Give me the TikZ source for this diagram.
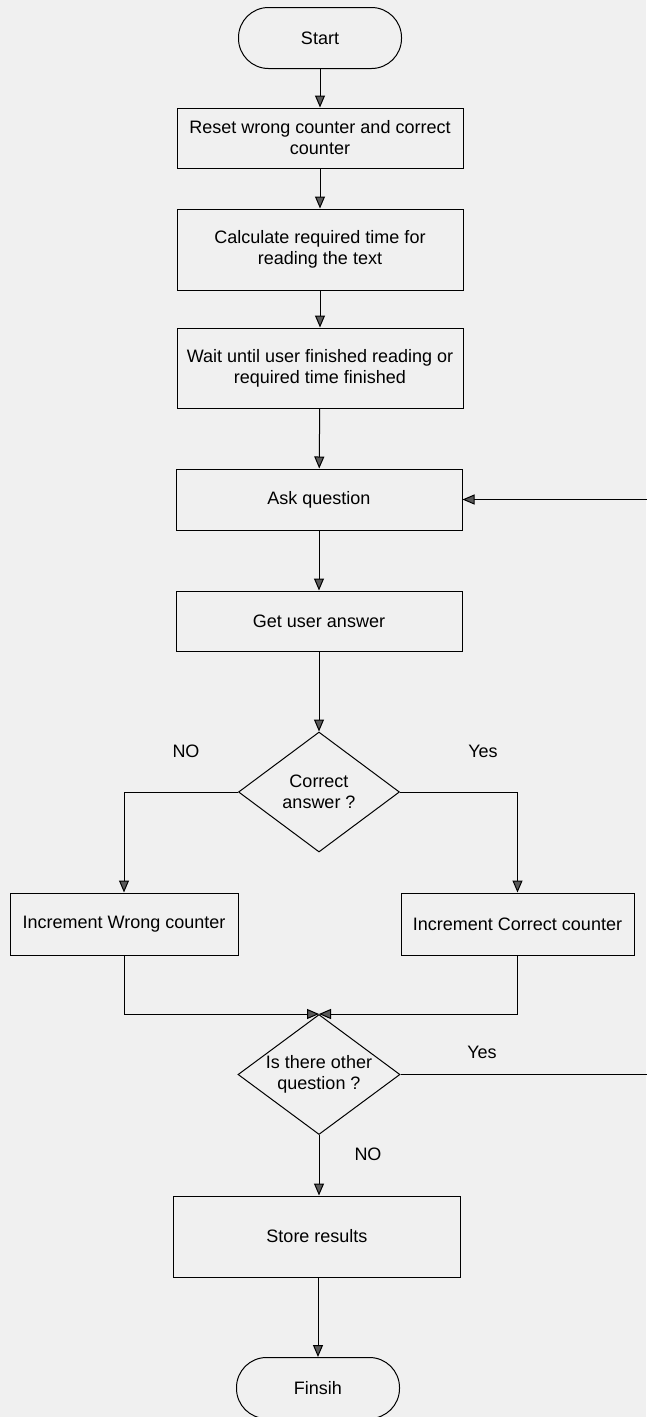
\documentclass[tikz,border=0pt]{standalone}
\usepackage{fontspec}
\setmainfont{Liberation Sans}
\usetikzlibrary{shapes.geometric,arrows.meta}
\begin{document}
\begin{tikzpicture}[x=1pt,y=-1pt,
  every node/.style={font=\fontsize{18}{21}\selectfont},
  box/.style={draw, line width=1pt, rectangle, minimum width=286pt, inner sep=0pt, align=center},
  term/.style={draw, line width=1pt, rectangle, rounded corners=30pt, minimum width=163pt, minimum height=61pt, inner sep=0pt},
  decision/.style={draw, line width=1pt, diamond, aspect=1.33, minimum width=#1, minimum height=120pt, inner sep=0pt, align=center},
  lbl/.style={inner sep=0pt},
  conn/.style={draw, line width=1pt},
  arr/.style={conn, -{Triangle[length=12pt,width=10pt,fill=black!65]}}
]
\fill[black!6] (0,0) rectangle (646,1417);
\useasboundingbox (0,0) rectangle (646,1417);

\node[term] (start) at (320,38) {Start};
\node[box, minimum height=60pt] (reset) at (320,138) {Reset wrong counter and correct\\counter};
\node[box, minimum height=81pt] (calc) at (320,249.5) {Calculate required time for\\reading the text};
\node[box, minimum height=80pt] (wait) at (320,368) {Wait until user finished reading or\\required time finished};
\node[box, minimum height=61pt] (ask) at (319,499.5) {Ask question};
\node[box, minimum height=60pt] (get) at (319,621) {Get user answer};
\node[decision=161pt] (dec1) at (319,792) {Correct\\answer ?};
\node[box, minimum width=228pt, minimum height=62pt] (wrong) at (124,924) {Increment Wrong counter};
\node[box, minimum width=233pt, minimum height=62pt] (correct) at (517.5,924) {Increment Correct counter};
\node[decision=162pt] (dec2) at (319,1074.5) {Is there other\\question ?};
\node[box, minimum width=287pt, minimum height=81pt] (store) at (317,1236.5) {Store results};
\node[term] (finish) at (318,1388) {Finsih};

\node[lbl] (no1) at (186,751) {NO};
\node[lbl] (yes1) at (483,751) {Yes};
\node[lbl] (yes2) at (482,1052) {Yes};
\node[lbl] (no2) at (368,1154) {NO};

\coordinate (loopA) at (665,1074.5);
\coordinate (loopB) at (665,499.5);

\draw[arr] (start) -- (reset);
\draw[arr] (reset) -- (calc);
\draw[arr] (calc) -- (wait);
\draw[arr] (wait) -- (ask);
\draw[arr] (ask) -- (get);
\draw[arr] (get) -- (dec1);
\draw[arr] (dec1.west) -| (wrong.north);
\draw[arr] (dec1.east) -| (correct.north);
\draw[arr] (wrong.south) |- (dec2.north);
\draw[arr] (correct.south) |- (dec2.north);
\draw[conn] (dec2.east) -- (loopA) -- (loopB);
\draw[arr] (loopB) -- (ask.east);
\draw[arr] (dec2.south) -- (dec2.south |- store.north);
\draw[arr] (store.south -| finish.north) -- (finish.north);
\end{tikzpicture}
\end{document}
